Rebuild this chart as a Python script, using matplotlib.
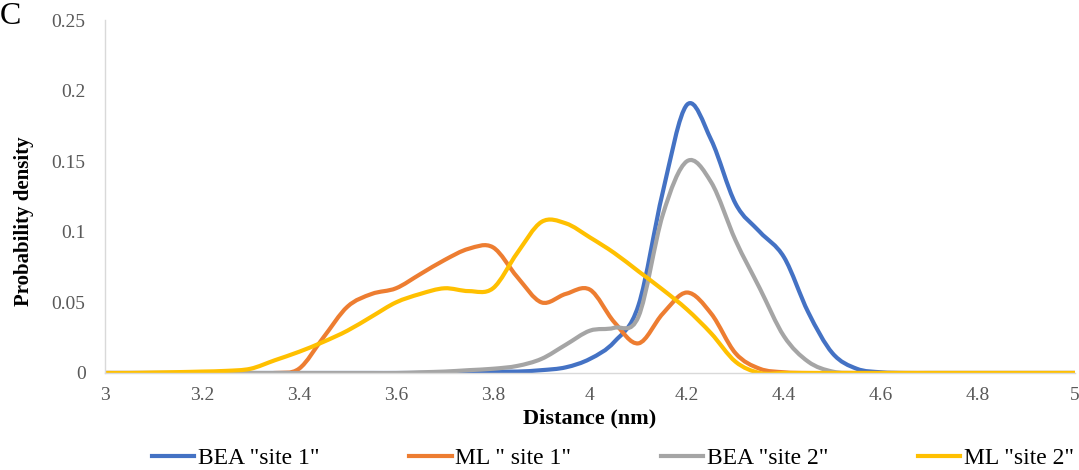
import matplotlib
matplotlib.use("Agg")
import matplotlib.pyplot as plt
from matplotlib.path import Path
from matplotlib.patches import PathPatch
from matplotlib.lines import Line2D
import numpy as np

plt.rcParams["font.family"] = ["Liberation Serif", "DejaVu Serif"]

distance = [3.00, 3.05, 3.10, 3.15, 3.20, 3.25, 3.30, 3.35, 3.40, 3.45,
            3.50, 3.55, 3.60, 3.65, 3.70, 3.75, 3.80, 3.85, 3.90, 3.95,
            4.00, 4.05, 4.10, 4.15, 4.20, 4.25, 4.30, 4.35, 4.40, 4.45,
            4.50, 4.55, 4.60, 4.65, 4.70, 4.75, 4.80, 4.85, 4.90, 4.95, 5.00]

bea_site1 = [0, 0, 0, 0, 0, 0, 0, 0, 0, 0,
             0, 0, 0, 0, 0, 0.0005, 0.001, 0.001, 0.002, 0.004,
             0.010, 0.022, 0.048, 0.128, 0.190, 0.165, 0.120, 0.100, 0.082, 0.043,
             0.014, 0.003, 0.0005, 0, 0, 0, 0, 0, 0, 0, 0]

ml_site1 = [0, 0, 0, 0, 0, 0, 0, 0, 0.003, 0.025,
            0.047, 0.056, 0.060, 0.070, 0.080, 0.088, 0.089, 0.068, 0.050, 0.056,
            0.059, 0.036, 0.021, 0.042, 0.057, 0.042, 0.014, 0.003, 0.0005, 0,
            0, 0, 0, 0, 0, 0, 0, 0, 0, 0, 0]

bea_site2 = [0, 0, 0, 0, 0, 0, 0, 0, 0, 0,
             0, 0, 0, 0.0005, 0.001, 0.002, 0.003, 0.005, 0.010, 0.020,
             0.030, 0.032, 0.040, 0.112, 0.150, 0.135, 0.094, 0.060, 0.026, 0.008,
             0.001, 0, 0, 0, 0, 0, 0, 0, 0, 0, 0]

ml_site2 = [0, 0, 0.0003, 0.0006, 0.001, 0.0015, 0.003, 0.009, 0.015, 0.022,
            0.030, 0.040, 0.050, 0.056, 0.060, 0.058, 0.060, 0.085, 0.107, 0.106,
            0.096, 0.085, 0.072, 0.059, 0.045, 0.028, 0.008, 0, 0, 0,
            0, 0, 0, 0, 0, 0, 0, 0, 0, 0, 0]

labels = ['BEA "site 1"', 'ML " site 1"', 'BEA "site 2"', 'ML "site 2"']
colors = ["#4472C4", "#ED7D31", "#A5A5A5", "#FFC000"]
x_ticks = [3, 3.2, 3.4, 3.6, 3.8, 4, 4.2, 4.4, 4.6, 4.8, 5]
y_ticks = [0, 0.05, 0.1, 0.15, 0.2, 0.25]


def smooth_path(xs, ys):
    # excel style smoothed line: catmull-rom segments as cubic beziers
    xs = np.asarray(xs, float)
    ys = np.asarray(ys, float)
    pts = np.column_stack([xs, ys])
    verts = [pts[0]]
    codes = [Path.MOVETO]
    n = len(pts)
    for i in range(n - 1):
        p0 = pts[max(i - 1, 0)]
        p1 = pts[i]
        p2 = pts[i + 1]
        p3 = pts[min(i + 2, n - 1)]
        c1 = p1 + (p2 - p0) / 6
        c2 = p2 - (p3 - p1) / 6
        verts += [c1, c2, p2]
        codes += [Path.CURVE4] * 3
    return Path(verts, codes)


fig = plt.figure(figsize=(10.79, 4.70), dpi=100)
ax = fig.add_axes([0.0973, 0.2064, 0.899, 0.751])

series = [bea_site1, ml_site1, bea_site2, ml_site2]
handles = []
for ys, c, lab in zip(series, colors, labels):
    patch = PathPatch(smooth_path(distance, ys), facecolor="none", edgecolor=c,
                      lw=3, capstyle="round", joinstyle="round")
    ax.add_patch(patch)
    handles.append(Line2D([], [], color=c, lw=3, label=lab))

ax.set_xlim(3, 5)
ax.set_ylim(0, 0.25)
ax.set_xticks(x_ticks)
ax.set_xticklabels([f"{t:g}" for t in x_ticks])
ax.set_yticks(y_ticks)
ax.set_yticklabels([f"{t:g}" for t in y_ticks])
ax.tick_params(length=0, labelsize=14, labelcolor="#595959")
ax.tick_params(axis="y", pad=14)
ax.tick_params(axis="x", pad=10)

for s in ["top", "right"]:
    ax.spines[s].set_visible(False)
for s in ["left", "bottom"]:
    ax.spines[s].set_color("#D9D9D9")
    ax.spines[s].set_linewidth(1)

ax.set_xlabel("Distance (nm)", fontsize=16, fontweight="bold", va="center")
ax.xaxis.set_label_coords(0.5, -0.128)
ax.set_ylabel("Probability density", fontsize=15, fontweight="bold", va="center")
ax.yaxis.set_label_coords(-0.084, 0.43)

fig.text(0.0, 0.995, "C", fontsize=23, va="top", ha="left")

fig.legend(handles=handles, loc="center", bbox_to_anchor=(0.568, 0.025), ncol=4,
           frameon=False, fontsize=17, handlelength=1.8, handletextpad=0.15,
           columnspacing=3.8)

fig.savefig("out.png", dpi=100)
